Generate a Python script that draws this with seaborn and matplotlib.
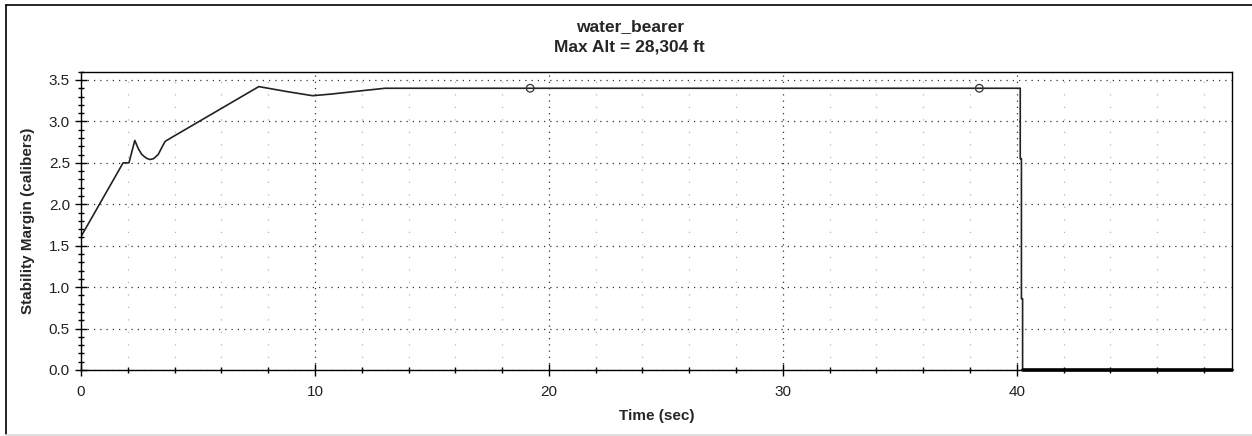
import pandas as pd
import seaborn as sns
import matplotlib.pyplot as plt
from matplotlib.ticker import MultipleLocator
from matplotlib.lines import Line2D

# stability margin trace
time_sec = [0.0, 1.8, 2.05, 2.3, 2.45, 2.6, 2.8, 2.95, 3.1, 3.3, 3.5, 3.6, 3.9,
            7.6, 8.8, 9.9, 10.7, 12.0, 13.0,
            40.15, 40.15, 40.2, 40.2, 40.25, 40.25, 49.2]
margin_cal = [1.61, 2.50, 2.50, 2.77, 2.67, 2.60, 2.555, 2.54, 2.55, 2.60, 2.71, 2.76, 2.81,
              3.42, 3.36, 3.31, 3.33, 3.37, 3.40,
              3.40, 2.55, 2.55, 0.86, 0.86, 0.0, 0.0]

# event markers (open circles)
marker_time = [19.2, 38.4]
marker_margin = [3.40, 3.40]

title_lines = ["water_bearer", "Max Alt = 28,304 ft"]

df = pd.DataFrame({"time": time_sec, "margin": margin_cal})
df_marks = pd.DataFrame({"time": marker_time, "margin": marker_margin})

sns.set_style("ticks")
plt.rcParams['font.family'] = ['Liberation Sans', 'DejaVu Sans']

fig = plt.figure(figsize=(12.52, 4.36), dpi=100)
ax = fig.add_axes([0.0647, 0.1514, 0.9193, 0.6842])

# grid first so the data sits on top
ax.xaxis.set_major_locator(MultipleLocator(10))
ax.xaxis.set_minor_locator(MultipleLocator(2))
ax.yaxis.set_major_locator(MultipleLocator(0.5))
ax.yaxis.set_minor_locator(MultipleLocator(0.1))
ax.grid(which='major', axis='both', color='#333333', linestyle=(0, (1, 4)), linewidth=0.9)
ax.grid(which='minor', axis='x', color='#b5b5b5', linestyle=(0, (1, 9)), linewidth=0.9)
ax.grid(which='minor', axis='y', visible=False)
ax.set_axisbelow(True)

sns.lineplot(data=df, x="time", y="margin", sort=False, estimator=None,
             color='#222222', linewidth=1.2, ax=ax)
# zero segment after the drop is drawn heavier
sns.lineplot(data=df.iloc[-2:], x="time", y="margin", sort=False, estimator=None,
             color='black', linewidth=2.6, ax=ax, clip_on=False)
sns.scatterplot(data=df_marks, x="time", y="margin", marker='o', s=30,
                facecolor='none', edgecolor='#333333', linewidth=0.9, ax=ax, zorder=5)

ax.set_xlim(0, 49.2)
ax.set_ylim(0, 3.6)
ax.yaxis.set_major_formatter(plt.FormatStrFormatter('%.1f'))

for s in ax.spines.values():
    s.set_color('black')
    s.set_linewidth(1.0)

ax.tick_params(which='major', direction='inout', length=8, width=1.0,
               labelsize=11, colors='black', labelcolor='#222222', pad=4)
ax.tick_params(axis='x', which='major', pad=7)
ax.tick_params(which='minor', direction='inout', length=5, width=1.0, colors='black')

ax.set_xlabel("Time (sec)", fontsize=11, fontweight='bold', labelpad=7)
ax.set_ylabel("Stability Margin (calibers)", fontsize=11, fontweight='bold', labelpad=10)

fig.text(0.503, 0.938, title_lines[0], ha='center', va='center', fontsize=12.5, fontweight='bold')
fig.text(0.503, 0.893, title_lines[1], ha='center', va='center', fontsize=12.5, fontweight='bold')

# outer frame like the source window
fig.add_artist(Line2D([0.0048, 0.0048], [0.005, 0.9885], transform=fig.transFigure, color='black', lw=1.2))
fig.add_artist(Line2D([0.0048, 1.0], [0.9885, 0.9885], transform=fig.transFigure, color='black', lw=1.2))
fig.add_artist(Line2D([0.0048, 1.0], [0.003, 0.003], transform=fig.transFigure, color='#d9d9d9', lw=1.2))

plt.savefig("out.png", dpi=100)
